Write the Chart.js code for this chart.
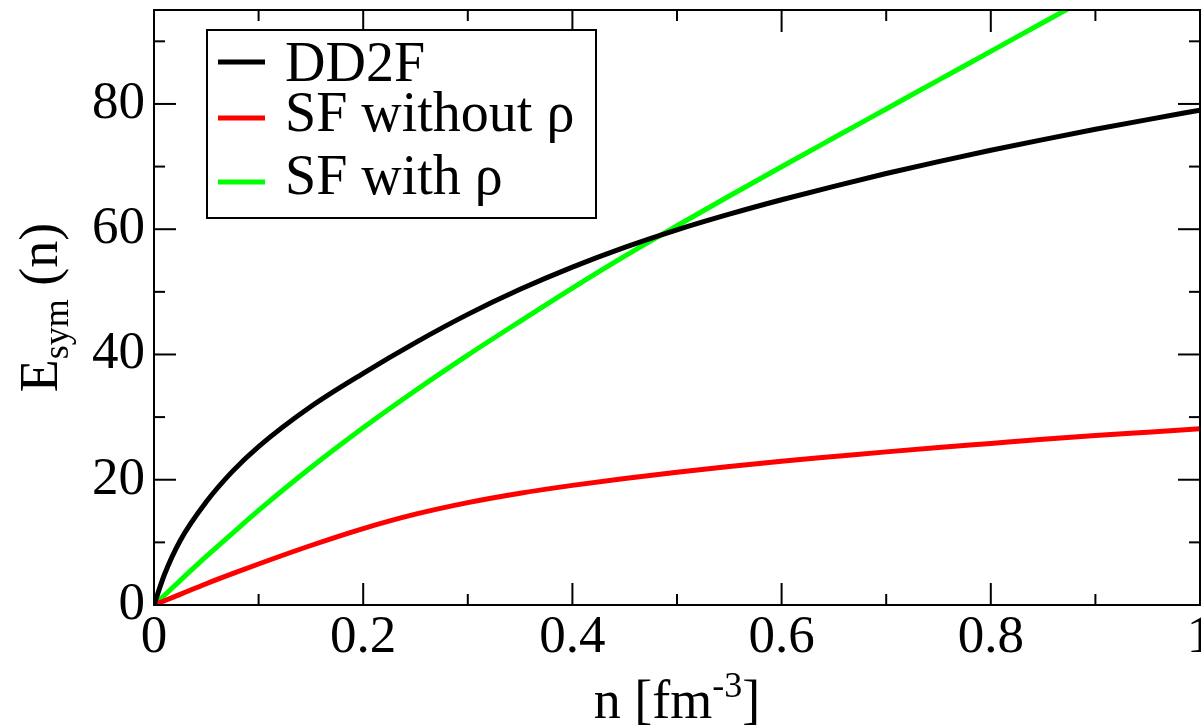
<!DOCTYPE html>
<html>
<head>
<meta charset="utf-8">
<script src="https://cdn.jsdelivr.net/npm/chart.js@4.4.1/dist/chart.umd.min.js"></script>
<style>
  html, body { margin: 0; padding: 0; background: #ffffff; }
  #wrap { width: 1201px; height: 728px; }
</style>
</head>
<body>
<div id="wrap"><canvas id="c" width="1201" height="728"></canvas></div>
<script>
// ---- data ----
const nValues   = [0, 0.01, 0.025, 0.05, 0.075, 0.1, 0.15, 0.2, 0.25, 0.3, 0.35, 0.4, 0.45, 0.5, 0.55, 0.6, 0.65, 0.7, 0.75, 0.8, 0.85, 0.9, 0.95, 1.0];
const dd2f      = [0, 4.87, 10.27, 16.47, 21.33, 25.3, 31.7, 37.0, 41.9, 46.4, 50.4, 53.95, 57.1, 59.9, 62.4, 64.7, 66.85, 68.9, 70.8, 72.6, 74.3, 75.95, 77.5, 79.0];
const sfWithout = [0, 0.68, 1.7, 3.4, 5.0, 6.55, 9.5, 12.2, 14.5, 16.35, 17.85, 19.1, 20.2, 21.2, 22.1, 22.95, 23.7, 24.45, 25.15, 25.8, 26.45, 27.05, 27.6, 28.15];
const sfWith    = [0, 1.55, 3.9, 7.75, 11.45, 15.1, 21.95, 28.3, 34.25, 39.9, 45.3, 50.6, 55.7, 60.55, 65.3, 69.98, 74.6, 79.2, 83.8, 88.4, 93.0, 97.6, null, null];
const seriesLabels = ['DD2F', 'SF without ρ', 'SF with ρ'];
const seriesColors = ['#000000', '#ff0000', '#00ff00'];
const xMin = 0, xMax = 1, xStep = 0.1;
const yMin = 0, yMax = 95, yStep = 10;

const FONT = '"Liberation Serif", "Tinos", "Nimbus Roman", "FreeSerif", "Times New Roman", Times, "DejaVu Serif", serif';
const TICK_SIZE = 53;

function toPoints(arr) {
  const pts = [];
  arr.forEach((v, i) => { if (v !== null) pts.push({ x: nValues[i], y: v }); });
  return pts;
}

const frameTicksPlugin = {
  id: 'frameTicks',
  afterDatasetsDraw(chart) {
    const { ctx, chartArea: a, scales: { x, y } } = chart;
    ctx.save();
    ctx.strokeStyle = '#000';
    ctx.lineWidth = 2;
    ctx.lineCap = 'butt';
    const line = (x1, y1, x2, y2) => { ctx.beginPath(); ctx.moveTo(x1, y1); ctx.lineTo(x2, y2); ctx.stroke(); };
    x.ticks.forEach((t, i) => {
      const px = x.getPixelForValue(t.value);
      const len = (i % 2 === 0) ? 22 : 11;
      line(px, a.bottom, px, a.bottom - len);
      line(px, a.top, px, a.top + len);
    });
    y.ticks.forEach((t) => {
      const py = y.getPixelForValue(t.value);
      const len = (Math.round(t.value) % 20 === 0) ? 22 : 11;
      line(a.left, py, a.left + len, py);
      line(a.right, py, a.right - len, py);
    });
    ctx.strokeRect(a.left, a.top, a.right - a.left, a.bottom - a.top);

    // legend
    const lx = a.left + 53, ly = a.top + 20, lw = 389, lh = 188;
    ctx.fillStyle = '#fff';
    ctx.fillRect(lx, ly, lw, lh);
    ctx.strokeStyle = '#000';
    ctx.lineWidth = 2;
    ctx.strokeRect(lx, ly, lw, lh);
    const lineYs = [32, 88, 152];
    const textYs = [51, 101, 164];
    ctx.font = '56px ' + FONT;
    ctx.textAlign = 'left';
    ctx.textBaseline = 'alphabetic';
    chart.data.datasets.forEach((ds, i) => {
      ctx.strokeStyle = ds.borderColor;
      ctx.lineWidth = 5;
      line(lx + 11, ly + lineYs[i], lx + 58, ly + lineYs[i]);
      ctx.fillStyle = '#000';
      ctx.fillText(ds.label, lx + 78, ly + textYs[i]);
    });

    // x title: n [fm^-3]
    ctx.fillStyle = '#000';
    const big = '54px ' + FONT, small = '36px ' + FONT;
    const p1 = 'n [fm', p2 = '-3', p3 = ']';
    ctx.font = big; const w1 = ctx.measureText(p1).width, w3 = ctx.measureText(p3).width;
    ctx.font = small; const w2 = ctx.measureText(p2).width;
    let sx = (a.left + a.right) / 2 - (w1 + w2 + w3) / 2;
    const base = 718;
    ctx.font = big; ctx.fillText(p1, sx, base); sx += w1;
    ctx.font = small; ctx.fillText(p2, sx, base - 21); sx += w2;
    ctx.font = big; ctx.fillText(p3, sx, base);

    // y title: E_sym (n)
    const q1 = 'E', q2 = 'sym', q3 = ' (n)';
    ctx.font = big; const v1 = ctx.measureText(q1).width, v3 = ctx.measureText(q3).width;
    ctx.font = small; const v2 = ctx.measureText(q2).width;
    const total = v1 + v2 + v3;
    ctx.translate(57, (a.top + a.bottom) / 2);
    ctx.rotate(-Math.PI / 2);
    let tx = -total / 2;
    ctx.font = big; ctx.fillText(q1, tx, 0); tx += v1;
    ctx.font = small; ctx.fillText(q2, tx, 11); tx += v2;
    ctx.font = big; ctx.fillText(q3, tx, 0);
    ctx.restore();
  }
};

function build() {
  new Chart(document.getElementById('c'), {
    type: 'line',
    data: {
      datasets: [
        { label: seriesLabels[0], data: toPoints(dd2f), borderColor: seriesColors[0] },
        { label: seriesLabels[1], data: toPoints(sfWithout), borderColor: seriesColors[1] },
        { label: seriesLabels[2], data: toPoints(sfWith), borderColor: seriesColors[2] }
      ].map(d => Object.assign(d, { borderWidth: 5, pointRadius: 0, fill: false, cubicInterpolationMode: 'monotone' }))
    },
    options: {
      responsive: false,
      animation: false,
      layout: { padding: { top: 10, right: 1, left: 0, bottom: 0 } },
      plugins: { legend: { display: false }, tooltip: { enabled: false } },
      scales: {
        x: {
          type: 'linear', min: xMin, max: xMax,
          grid: { display: false, drawTicks: false },
          border: { display: false },
          ticks: {
            stepSize: xStep, padding: 1, maxRotation: 0, autoSkip: false, color: '#000',
            font: { family: FONT, size: TICK_SIZE },
            callback: (v, i) => (i % 2 === 0) ? String(Number(v.toFixed(1))) : ''
          },
          afterFit: (s) => { s.height = 123; s.paddingLeft = 0; s.paddingRight = 0; }
        },
        y: {
          type: 'linear', min: yMin, max: yMax,
          grid: { display: false, drawTicks: false },
          border: { display: false },
          ticks: {
            stepSize: yStep, includeBounds: false, padding: 9, autoSkip: false, color: '#000',
            font: { family: FONT, size: TICK_SIZE },
            callback: (v) => (Math.round(v) % 20 === 0) ? String(v) : ''
          },
          afterFit: (s) => { s.width = 154; s.paddingTop = 0; s.paddingBottom = 0; }
        }
      }
    },
    plugins: [frameTicksPlugin]
  });
}

if (document.fonts && document.fonts.load) {
  Promise.all([
    document.fonts.load('56px "Liberation Serif"'),
    document.fonts.load('56px "DejaVu Serif"')
  ]).catch(() => {}).then(build);
} else {
  build();
}
</script>
</body>
</html>
